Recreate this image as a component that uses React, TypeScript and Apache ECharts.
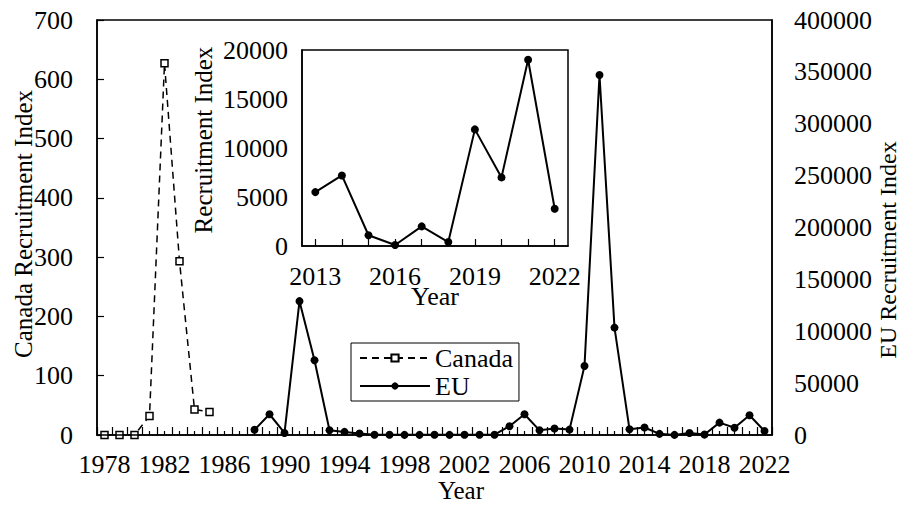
import React, { useEffect, useRef } from "react";
import * as echarts from "echarts";

const years: string[] = [];
for (let y = 1978; y <= 2022; y++) years.push(String(y));

// Canada recruitment index, 1978–1985
const canadaValues: (number | null)[] = [0, 0, 0, 32, 627, 293, 43, 39];

// EU recruitment index, 1988–2022
const euValues: number[] = [
  5000, 20000, 2000, 129000, 72000, 4500, 3000, 1500, 300, 200,
  150, 150, 200, 150, 200, 250, 300, 8500, 20000, 4500,
  6200, 5200, 66500, 347000, 103500, 5500, 7200, 1100, 100, 2000,
  400, 11900, 7000, 19000, 3800,
];

const insetYears: string[] = ["2013", "2014", "2015", "2016", "2017", "2018", "2019", "2020", "2021", "2022"];
const insetValues: number[] = [5500, 7200, 1100, 100, 2000, 400, 11900, 7000, 19000, 3800];

const FONT = "Liberation Serif";
const FS = 26;

export default function App() {
  const ref = useRef<HTMLDivElement>(null);
  useEffect(() => {
    if (!ref.current) return;
    const chart = echarts.init(ref.current, null, { renderer: "svg" });

    const canadaData = years.map((_, i) => (i < canadaValues.length ? canadaValues[i] : "-"));
    const euStart = years.indexOf("1988");
    const euData = years.map((_, i) => (i >= euStart ? euValues[i - euStart] : "-"));

    const plain = (v: number) => String(v);
    const labelStyle = { fontFamily: FONT, fontSize: FS, color: "#000" };
    const blackLine = { color: "#000", width: 1.5 };
    const tickLine = { color: "#000", width: 1.2 };

    chart.setOption({
      animation: false,
      backgroundColor: "#fff",
      textStyle: { fontFamily: FONT },
      grid: [
        { left: 97, right: 129, top: 20, bottom: 73, show: true, borderColor: "#000", borderWidth: 1.5, backgroundColor: "transparent" },
        { left: 302, right: 333, top: 50, bottom: 262, show: true, borderColor: "#000", borderWidth: 1.5, backgroundColor: "#fff" },
      ],
      legend: {
        data: ["Canada", "EU"],
        orient: "vertical",
        left: 351,
        top: 343,
        itemWidth: 70,
        itemHeight: 9,
        itemGap: 2,
        padding: [2, 6, 2, 8],
        borderColor: "#000",
        borderWidth: 1,
        textStyle: { fontFamily: FONT, fontSize: FS, color: "#000", lineHeight: 25 },
      },
      xAxis: [
        {
          type: "category",
          gridIndex: 0,
          data: years,
          boundaryGap: true,
          axisLine: { lineStyle: blackLine },
          axisTick: { show: true, inside: true, interval: 0, length: 8, lineStyle: tickLine },
          axisLabel: { ...labelStyle, interval: 3, margin: 16 },
          splitLine: { show: false },
          z: 5,
        },
        {
          type: "category",
          gridIndex: 0,
          data: years,
          boundaryGap: true,
          position: "bottom",
          axisLine: { show: false },
          axisTick: { show: true, inside: true, interval: 0, alignWithLabel: true, length: 4, lineStyle: tickLine },
          axisLabel: { show: false },
          splitLine: { show: false },
        },
        {
          type: "category",
          gridIndex: 1,
          data: insetYears,
          boundaryGap: true,
          axisLine: { lineStyle: blackLine },
          axisTick: { show: true, inside: true, alignWithLabel: true, interval: 0, length: 7, lineStyle: tickLine },
          axisLabel: { ...labelStyle, interval: 2, margin: 17 },
          splitLine: { show: false },
        },
      ],
      yAxis: [
        {
          type: "value",
          gridIndex: 0,
          min: 0,
          max: 700,
          interval: 100,
          position: "left",
          axisLine: { show: true, lineStyle: blackLine },
          axisTick: { show: true, inside: true, length: 7, lineStyle: tickLine },
          axisLabel: { ...labelStyle, margin: 24, formatter: plain },
          splitLine: { show: false },
        },
        {
          type: "value",
          gridIndex: 0,
          min: 0,
          max: 400000,
          interval: 50000,
          position: "right",
          axisLine: { show: true, lineStyle: blackLine },
          axisTick: { show: false },
          axisLabel: { ...labelStyle, margin: 22, formatter: plain },
          splitLine: { show: false },
        },
        {
          type: "value",
          gridIndex: 1,
          min: 0,
          max: 20000,
          interval: 5000,
          axisLine: { show: true, lineStyle: blackLine },
          axisTick: { show: false },
          axisLabel: { ...labelStyle, margin: 14, formatter: plain },
          splitLine: { show: false },
        },
      ],
      series: [
        {
          name: "Canada",
          type: "line",
          xAxisIndex: 0,
          yAxisIndex: 0,
          data: canadaData,
          symbol: "rect",
          symbolSize: 7,
          showAllSymbol: true,
          lineStyle: { color: "#000", width: 1.5, type: [7, 5] },
          itemStyle: { color: "#fff", borderColor: "#000", borderWidth: 1.5 },
          z: 3,
        },
        {
          name: "EU",
          type: "line",
          xAxisIndex: 0,
          yAxisIndex: 1,
          data: euData,
          symbol: "circle",
          symbolSize: 8,
          showAllSymbol: true,
          lineStyle: { color: "#000", width: 2 },
          itemStyle: { color: "#000" },
          z: 3,
        },
        {
          name: "EU (2013–2022)",
          type: "line",
          xAxisIndex: 2,
          yAxisIndex: 2,
          data: insetValues,
          symbol: "circle",
          symbolSize: 8,
          showAllSymbol: true,
          lineStyle: { color: "#000", width: 2 },
          itemStyle: { color: "#000" },
          z: 4,
        },
      ],
      graphic: [
        {
          type: "text",
          x: 23,
          y: 224,
          rotation: Math.PI / 2,
          style: { text: "Canada Recruitment Index", fontFamily: FONT, fontSize: 25, fill: "#000", textAlign: "center", textVerticalAlign: "middle" },
        },
        {
          type: "text",
          x: 888,
          y: 250,
          rotation: Math.PI / 2,
          style: { text: "EU Recruitment Index", fontFamily: FONT, fontSize: 24, fill: "#000", textAlign: "center", textVerticalAlign: "middle" },
        },
        {
          type: "text",
          x: 461,
          y: 490,
          style: { text: "Year", fontFamily: FONT, fontSize: 25, fill: "#000", textAlign: "center", textVerticalAlign: "middle" },
        },
        {
          type: "text",
          x: 435,
          y: 296,
          z: 10,
          style: { text: "Year", fontFamily: FONT, fontSize: FS, fill: "#000", textAlign: "center", textVerticalAlign: "middle" },
        },
        {
          type: "text",
          x: 203,
          y: 140,
          rotation: Math.PI / 2,
          z: 10,
          style: { text: "Recruitment Index", fontFamily: FONT, fontSize: 25, fill: "#000", textAlign: "center", textVerticalAlign: "middle" },
        },
      ],
    });
    return () => chart.dispose();
  }, []);

  return <div ref={ref} style={{ position: "fixed", left: 0, top: 0, width: 901, height: 508 }} />;
}
